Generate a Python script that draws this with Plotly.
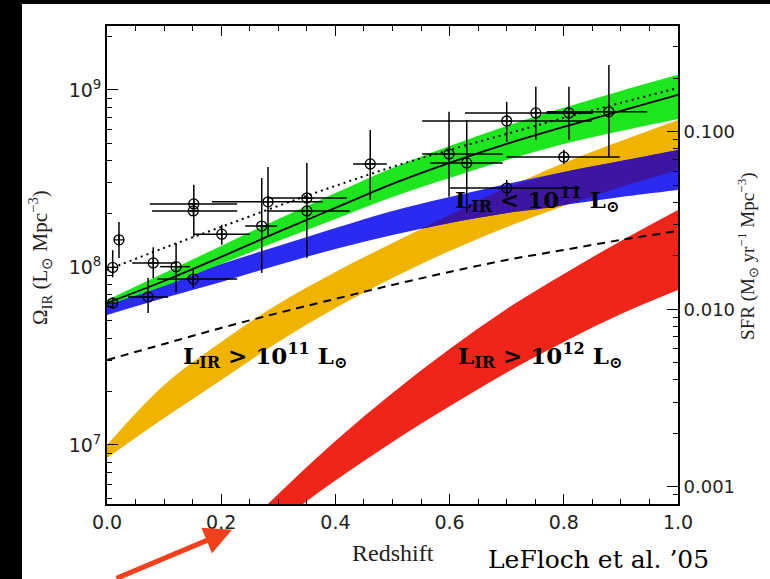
import numpy as np
import plotly.graph_objects as go

# ---------------- data ----------------
z_grid = [0.0, 0.1, 0.2, 0.3, 0.4, 0.5, 0.6, 0.7, 0.8, 0.9, 1.0]

# total IR energy density band (green)
total_hi = [6.56e7, 9.31e7, 1.322e8, 1.876e8, 2.628e8, 3.636e8, 4.837e8, 6.27e8, 7.92e8, 9.87e8, 1.215e9]
total_lo = [6.15e7, 7.87e7, 1.046e8, 1.410e8, 1.876e8, 2.495e8, 3.193e8, 4.033e8, 4.963e8, 5.875e8, 6.866e8]

# L_IR < 1e11 band (blue)
lt11_hi = [6.56e7, 8.28e7, 1.046e8, 1.322e8, 1.669e8, 2.081e8, 2.495e8, 2.954e8, 3.451e8, 3.981e8, 4.592e8]
lt11_lo = [5.40e7, 6.73e7, 8.28e7, 1.033e8, 1.271e8, 1.525e8, 1.781e8, 2.028e8, 2.250e8, 2.495e8, 2.733e8]

# L_IR > 1e11 band (orange)
gt11_hi = [1.0e7, 2.178e7, 3.805e7, 6.23e7, 9.43e7, 1.374e8, 1.976e8, 2.805e8, 3.879e8, 5.16e8, 6.776e8]
gt11_lo = [8.45e6, 1.419e7, 2.324e7, 3.805e7, 5.91e7, 8.73e7, 1.239e8, 1.691e8, 2.221e8, 2.841e8, 3.543e8]

# L_IR > 1e12 band (red)
z_red = [0.2, 0.3, 0.4, 0.5, 0.6, 0.7, 0.8, 0.9, 1.0]
gt12_hi = [2.56e6, 5.30e6, 1.053e7, 1.963e7, 3.474e7, 5.84e7, 9.19e7, 1.410e8, 2.108e8]
gt12_lo = [2.0e6, 3.65e6, 6.3e6, 1.04e7, 1.65e7, 2.56e7, 3.805e7, 5.47e7, 7.47e7]

# model curves
curve_solid = [6.31e7, 8.39e7, 1.146e8, 1.585e8, 2.164e8, 2.954e8, 3.879e8, 4.963e8, 6.19e8, 7.61e8, 9.37e8]
curve_dotted = [9.68e7, 1.288e8, 1.691e8, 2.221e8, 2.879e8, 3.683e8, 4.592e8, 5.65e8, 6.956e8, 8.45e8, 1.026e9]
curve_dashed = [3.01e7, 3.707e7, 4.562e7, 5.54e7, 6.65e7, 7.97e7, 9.43e7, 1.102e8, 1.255e8, 1.428e8, 1.606e8]

# measurements with error bars
pt_z = [0.010, 0.010, 0.021, 0.081, 0.072, 0.121, 0.151, 0.152, 0.151, 0.201, 0.271, 0.282,
        0.350, 0.350, 0.461, 0.599, 0.630, 0.700, 0.751, 0.809, 0.879, 0.800, 0.700]
pt_zlo = [0.010, 0.010, 0.021, 0.044, 0.037, 0.093, 0.088, 0.075, 0.079, 0.151, 0.242, 0.184,
          0.280, 0.280, 0.431, 0.552, 0.566, 0.552, 0.627, 0.770, 0.770, 0.700, 0.601]
pt_zhi = [0.010, 0.010, 0.021, 0.123, 0.107, 0.145, 0.228, 0.228, 0.228, 0.250, 0.298, 0.378,
          0.420, 0.425, 0.490, 0.693, 0.693, 0.849, 0.851, 0.851, 0.946, 0.898, 0.828]
pt_om = [6.3e7, 1.0e8, 1.43e8, 1.06e8, 6.82e7, 1.01e8, 8.6e7, 2.28e8, 2.08e8, 1.54e8, 1.71e8, 2.34e8,
         2.46e8, 2.08e8, 3.83e8, 4.36e8, 3.88e8, 6.68e8, 7.42e8, 7.42e8, 7.52e8, 4.19e8, 2.80e8]
pt_omlo = [5.9e7, 8.8e7, 1.13e8, 8.73e7, 5.54e7, 7.28e7, 7.67e7, 1.49e8, 2.08e8, 1.34e8, 9.31e7, 1.49e8,
           1.13e8, 2.08e8, 2.40e8, 2.50e8, 2.03e8, 5.09e8, 5.23e8, 5.23e8, 4.19e8, 3.83e8, 2.50e8]
pt_omhi = [6.8e7, 1.25e8, 1.80e8, 1.30e8, 8.73e7, 1.37e8, 9.68e7, 2.92e8, 2.08e8, 1.74e8, 3.19e8, 3.68e8,
           3.88e8, 2.08e8, 5.95e8, 7.52e8, 6.77e8, 8.56e8, 1.04e9, 1.04e9, 1.38e9, 4.60e8, 3.11e8]

# axes
omega_range = [4.65e6, 2.29e9]
sfr_per_lum = 1.72e-10
x_ticks = [0, 0.2, 0.4, 0.6, 0.8, 1.0]
x_ticktext = ["0.0", "0.2", "0.4", "0.6", "0.8", "1.0"]
y_ticks = [1e7, 1e8, 1e9]
y_ticktext = ["10<sup>7</sup>", "10<sup>8</sup>", "10<sup>9</sup>"]
sfr_ticks = [0.001, 0.01, 0.1]
sfr_ticktext = ["0.001", "0.010", "0.100"]

# ---------------- colours ----------------
C_GREEN = "#1ee61e"
C_BLUE = "#2a2af0"
C_ORANGE = "#f0b400"
C_INDIGO = "#3c16a2"
C_RED = "#f0251a"

fig = go.Figure()


def band(x, lo, hi, color):
    fig.add_trace(go.Scatter(x=x, y=lo, mode="lines", line=dict(width=0, shape="spline"),
                             hoverinfo="skip", showlegend=False))
    fig.add_trace(go.Scatter(x=x, y=hi, mode="lines", line=dict(width=0, shape="spline"),
                             fill="tonexty", fillcolor=color, hoverinfo="skip", showlegend=False))


band(z_grid, gt11_lo, gt11_hi, C_ORANGE)
band(z_grid, lt11_lo, lt11_hi, C_BLUE)

# overlap of blue and orange bands (drawn darker)
zg = np.array(z_grid)
ov_top = np.minimum(np.array(gt11_hi), np.array(lt11_hi))
ov_bot = np.maximum(np.array(gt11_lo), np.array(lt11_lo))
f = np.log10(ov_top) - np.log10(ov_bot)
mask = f > 0
i = int(np.argmax(mask))
if i > 0:
    t = f[i - 1] / (f[i - 1] - f[i])
    zc = zg[i - 1] + t * (zg[i] - zg[i - 1])
    yc = 10 ** (np.log10(ov_bot[i - 1]) + t * (np.log10(ov_bot[i]) - np.log10(ov_bot[i - 1])))
    ox = [zc] + list(zg[mask])
    otop = [yc] + list(ov_top[mask])
    obot = [yc] + list(ov_bot[mask])
else:
    ox, otop, obot = list(zg[mask]), list(ov_top[mask]), list(ov_bot[mask])
band(ox, obot, otop, C_INDIGO)

band(z_grid, total_lo, total_hi, C_GREEN)
band(z_red, gt12_lo, gt12_hi, C_RED)

fig.add_trace(go.Scatter(x=z_grid, y=curve_dashed, mode="lines",
                         line=dict(color="black", width=2, dash="8px,6px", shape="spline"),
                         hoverinfo="skip", showlegend=False))
fig.add_trace(go.Scatter(x=z_grid, y=curve_dotted, mode="lines",
                         line=dict(color="black", width=2, dash="2px,4px", shape="spline"),
                         hoverinfo="skip", showlegend=False))
fig.add_trace(go.Scatter(x=z_grid, y=curve_solid, mode="lines",
                         line=dict(color="black", width=1.8, shape="spline"),
                         hoverinfo="skip", showlegend=False))

om = np.array(pt_om)
zz = np.array(pt_z)
fig.add_trace(go.Scatter(
    x=pt_z, y=pt_om, mode="markers",
    marker=dict(symbol="circle-cross-open", size=10, color="black", line=dict(width=1.3, color="black")),
    error_y=dict(type="data", symmetric=False, array=list(np.array(pt_omhi) - om),
                 arrayminus=list(om - np.array(pt_omlo)), color="black", thickness=1.5, width=0),
    error_x=dict(type="data", symmetric=False, array=list(np.array(pt_zhi) - zz),
                 arrayminus=list(zz - np.array(pt_zlo)), color="black", thickness=1.5, width=0),
    hoverinfo="skip", showlegend=False))

# dummy trace so the SFR axis is drawn
fig.add_trace(go.Scatter(x=[0.5], y=[0.01], yaxis="y2", mode="markers",
                         marker=dict(opacity=0), hoverinfo="skip", showlegend=False))

lr = [float(np.log10(v)) for v in omega_range]
sr = [v + float(np.log10(sfr_per_lum)) for v in lr]

y_minor = [k * 10 ** d for d in range(6, 10) for k in range(2, 10)
           if omega_range[0] <= k * 10 ** d <= omega_range[1]]
s_minor = [k * 10 ** d for d in range(-4, 0) for k in range(2, 10)
           if 10 ** sr[0] <= k * 10 ** d <= 10 ** sr[1]]

tick_font = dict(family="DejaVu Sans", size=18, color="#222")

fig.update_layout(
    width=770, height=579,
    margin=dict(l=107, r=92, t=26, b=75),
    paper_bgcolor="black", plot_bgcolor="white",
    showlegend=False,
    xaxis=dict(range=[0, 1], tickmode="array", tickvals=x_ticks, ticktext=x_ticktext,
               ticks="inside", ticklen=10, tickwidth=1.3, tickcolor="black",
               minor=dict(dtick=0.05, tick0=0, ticks="inside", ticklen=5, tickwidth=1.2, tickcolor="black"),
               showline=True, linecolor="black", linewidth=1.8, mirror="ticks",
               showgrid=False, zeroline=False, tickfont=dict(family="DejaVu Sans", size=19, color="#222")),
    yaxis=dict(type="log", range=lr, tickmode="array", tickvals=y_ticks, ticktext=y_ticktext,
               ticks="inside", ticklen=11, tickwidth=1.3, tickcolor="black",
               minor=dict(tickmode="array", tickvals=y_minor, ticks="inside", ticklen=5,
                          tickwidth=1.2, tickcolor="black"),
               showline=True, linecolor="black", linewidth=1.8, mirror=False,
               showgrid=False, zeroline=False, tickfont=dict(family="DejaVu Sans", size=19, color="#222")),
    yaxis2=dict(type="log", range=sr, overlaying="y", side="right", tickmode="array",
                tickvals=sfr_ticks, ticktext=sfr_ticktext,
                ticks="inside", ticklen=11, tickwidth=1.3, tickcolor="black",
                minor=dict(tickmode="array", tickvals=s_minor, ticks="inside", ticklen=5,
                           tickwidth=1.2, tickcolor="black"),
                showline=True, linecolor="black", linewidth=1.8,
                showgrid=False, zeroline=False, tickfont=tick_font),
    shapes=[dict(type="rect", xref="paper", yref="paper", x0=-0.1489, x1=1.25, y0=-0.25, y1=1.046,
                 fillcolor="white", line=dict(width=0), layer="below")],
)

serif = "Liberation Serif"
hand = "DejaVu Serif"
ann = [
    dict(text="Ω<sub>IR</sub> (L<sub>⊙</sub> Mpc<sup>−3</sup>)", x=-0.117, y=0.515, textangle=-90,
         font=dict(family=serif, size=21, color="#222")),
    dict(text="SFR (M<sub>⊙</sub> yr<sup>−1</sup> Mpc<sup>−3</sup>)", x=1.1226, y=0.519, textangle=-90,
         font=dict(family=serif, size=19, color="#222")),
    dict(text="Redshift", x=0.5, y=-0.1025, font=dict(family=serif, size=24, color="#222")),
    dict(text="<b>L<sub>IR</sub> &lt; 10<sup>11</sup> L<sub>⊙</sub></b>", x=0.753, y=0.636,
         font=dict(family=hand, size=23, color="black")),
    dict(text="<b>L<sub>IR</sub> &gt; 10<sup>11</sup> L<sub>⊙</sub></b>", x=0.277, y=0.31,
         font=dict(family=hand, size=23, color="black")),
    dict(text="<b>L<sub>IR</sub> &gt; 10<sup>12</sup> L<sub>⊙</sub></b>", x=0.758, y=0.31,
         font=dict(family=hand, size=23, color="black")),
    dict(text="LeFloch et al. ’05", x=0.86, y=-0.117, font=dict(family=hand, size=25, color="black")),
]
for a in ann:
    fig.add_annotation(xref="paper", yref="paper", showarrow=False, xanchor="center", yanchor="middle", **a)

fig.add_annotation(xref="paper", yref="paper", x=0.219, y=-0.054, ax=-117, ay=62, text="",
                   showarrow=True, arrowhead=2, arrowsize=1.1, arrowwidth=5, arrowcolor="#f0401c",
                   standoff=0)

fig.write_html("out.html", config={"displayModeBar": False},
               post_script="document.body.style.margin='0';document.body.style.overflow='hidden';")
